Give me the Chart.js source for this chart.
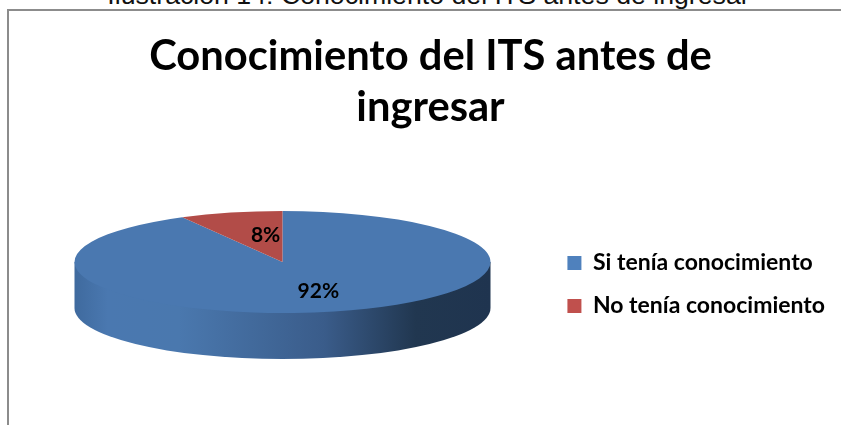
<!DOCTYPE html>
<html>
<head>
<meta charset="utf-8">
<script src="https://cdn.jsdelivr.net/npm/chart.js@4"></script>
<style>
  html, body { margin: 0; padding: 0; background: #fff; overflow: hidden; }
  #page { position: relative; width: 841px; height: 425px; overflow: hidden; }
  #caption { position: absolute; left: 0; right: 0; top: -20px; text-align: center; white-space: nowrap;
    font: 26.7px "Liberation Sans", sans-serif; color: #111; padding-left: 16px; }
  #frame { position: absolute; left: 7px; top: 9px; right: -4px; bottom: -4px;
    border: 2px solid #8c8c8c; }
  #myChart { position: absolute; left: 0; top: 0; }
</style>
</head>
<body>
<div id="page">
  <div id="caption">Ilustración 14: Conocimiento del ITS antes de ingresar</div>
  <div id="frame"></div>
  <canvas id="myChart" width="841" height="425"></canvas>
</div>
<script>
// Share of people who knew the ITS before joining
var categories = ["Si tenía conocimiento", "No tenía conocimiento"];
var percent = [92, 8];
var sliceColors = ["#4a78b0", "#b24c48"];
var legendColors = ["#4f81bd", "#c0504d"];
var titleLines = ["Conocimiento del ITS antes de", "ingresar"];

// where the flattened pie goes on the page
var tilt = { cx: 282.5, cy: 262, rx: 208, ry: 51, depth: 46 };
// label placement, relative to each slice's middle
var labelShift = [[10, 5], [9, -2]];

var pie3d = {
  id: "pie3d",
  beforeDatasetsDraw: function (chart) {
    var arc = chart.getDatasetMeta(0).data[0];
    var ctx = chart.ctx;

    // side wall, starts at the middle of the face so no seam shows
    var grad = ctx.createLinearGradient(tilt.cx - tilt.rx, 0, tilt.cx + tilt.rx, 0);
    grad.addColorStop(0, "#3f6a9e");
    grad.addColorStop(0.08, "#4a78b0");
    grad.addColorStop(0.25, "#4a78ae");
    grad.addColorStop(0.6, "#3a5c8a");
    grad.addColorStop(0.82, "#213750");
    grad.addColorStop(1, "#1f344f");
    ctx.save();
    ctx.beginPath();
    ctx.moveTo(tilt.cx - tilt.rx, tilt.cy);
    ctx.lineTo(tilt.cx + tilt.rx, tilt.cy);
    ctx.lineTo(tilt.cx + tilt.rx, tilt.cy + tilt.depth);
    ctx.ellipse(tilt.cx, tilt.cy + tilt.depth, tilt.rx, tilt.ry, 0, 0, Math.PI, false);
    ctx.closePath();
    ctx.fillStyle = grad;
    ctx.fill();
    ctx.restore();

    // squash the library's round pie into the top face
    ctx.save();
    ctx.translate(tilt.cx, tilt.cy);
    ctx.scale(tilt.rx / arc.outerRadius, tilt.ry / arc.outerRadius);
    ctx.translate(-arc.x, -arc.y);
  },
  afterDatasetsDraw: function (chart) {
    var ctx = chart.ctx;
    ctx.restore();

    var arcs = chart.getDatasetMeta(0).data;
    ctx.save();
    ctx.font = "bold 21px Lato";
    ctx.fillStyle = "#000";
    ctx.textAlign = "center";
    ctx.textBaseline = "middle";
    for (var i = 0; i < arcs.length; i++) {
      var pos = arcs[i].tooltipPosition();
      var px = tilt.cx + (pos.x - arcs[i].x) * tilt.rx / arcs[i].outerRadius + labelShift[i][0];
      var py = tilt.cy + (pos.y - arcs[i].y) * tilt.ry / arcs[i].outerRadius + labelShift[i][1];
      ctx.fillText(percent[i] + "%", px, py);
    }
    ctx.restore();
  }
};

new Chart("myChart", {
  type: "pie",
  data: {
    labels: categories,
    datasets: [{
      data: percent,
      backgroundColor: sliceColors,
      borderWidth: 0,
      clip: false
    }]
  },
  options: {
    responsive: false,
    animation: false,
    layout: { padding: { left: 26, right: 6 } },
    plugins: {
      tooltip: { enabled: false },
      title: {
        display: true,
        text: titleLines,
        color: "#000",
        font: { family: "Lato", size: 41.7, weight: "bold", lineHeight: 1.223 },
        padding: { top: 31, bottom: 11 }
      },
      legend: {
        position: "right",
        fullSize: false,
        labels: {
          color: "#000",
          font: { family: "Lato", size: 23, weight: "bold" },
          boxWidth: 14,
          boxHeight: 14,
          padding: 20,
          generateLabels: function () {
            return categories.map(function (c, i) {
              return { text: c, fillStyle: legendColors[i], strokeStyle: legendColors[i], lineWidth: 0, index: i };
            });
          }
        }
      }
    }
  },
  plugins: [pie3d]
});
</script>
</body>
</html>
